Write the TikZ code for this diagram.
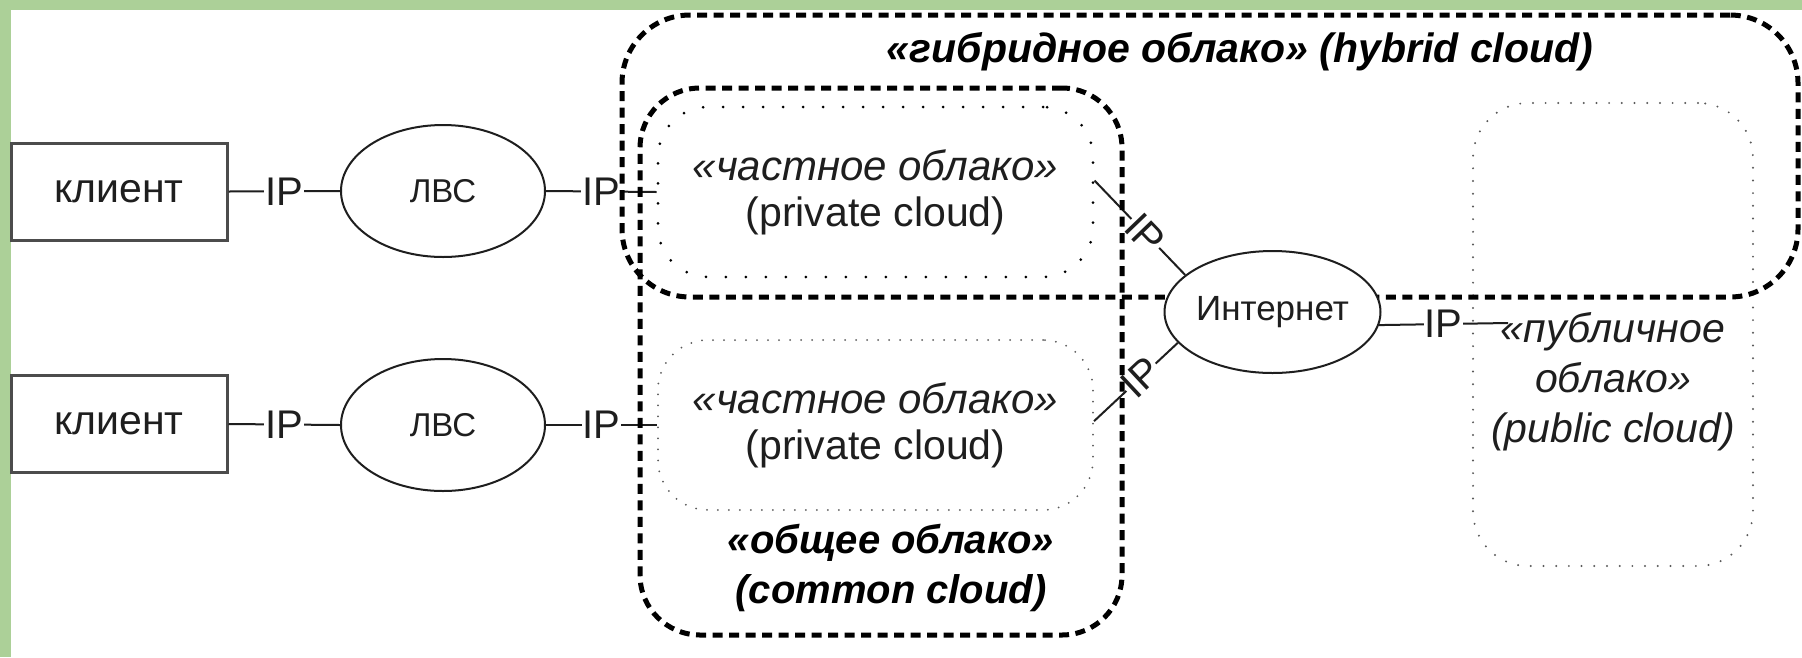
\documentclass[tikz,border=0pt]{standalone}
\usepackage{fontspec}
\setmainfont{Liberation Sans}
\usetikzlibrary{shapes.geometric,calc}
\definecolor{bggreen}{RGB}{172,208,152}
\definecolor{ink}{RGB}{30,30,30}
\definecolor{dotgray}{RGB}{90,90,90}
\pgfdeclarelayer{clouds}
\pgfdeclarelayer{toplayer}
\pgfsetlayers{main,clouds,toplayer}
\tikzset{
  conn/.style={line width=2pt, draw=ink},
  iplab/.style={fill=white, inner sep=1pt, text=ink, font=\fontsize{40}{40}\selectfont},
  clientbox/.style={draw=black!70, line width=3pt, minimum width=216pt, minimum height=97pt, inner sep=0pt, text=ink, font=\fontsize{41}{41}\selectfont},
  lan/.style={ellipse, draw=ink, line width=2pt, fill=white, minimum width=204pt, minimum height=132pt, inner sep=0pt, text=ink, font=\fontsize{33}{33}\selectfont},
  inetst/.style={ellipse, draw=ink, line width=2pt, fill=white, minimum width=189pt, minimum height=122pt, inner sep=0pt, text=ink, font=\fontsize{35}{35}\selectfont},
  bigcloud/.style={draw=black, line width=5pt, dash pattern=on 10pt off 6.5pt, inner sep=0pt},
  privcloud/.style={rounded corners=50pt, minimum width=435pt, minimum height=170pt, inner sep=0pt, align=center, text=ink, font=\fontsize{41}{46}\selectfont},
  privdotsA/.style={draw=black, line width=3pt, line cap=round, dash pattern=on 0pt off 20pt},
  privdotsB/.style={draw=dotgray, line width=2pt, line cap=round, dash pattern=on 0pt off 11pt},
  pubcloud/.style={draw=dotgray, line width=2.2pt, line cap=round, dash pattern=on 0pt off 12.7pt, rounded corners=55pt, minimum width=280pt, minimum height=463pt, inner sep=0pt},
  titlelab/.style={text=black, font=\bfseries\itshape\fontsize{41}{41}\selectfont},
  commonlab/.style={align=center, text=black, font=\bfseries\itshape\fontsize{40}{50}\selectfont},
  publab/.style={align=center, text=ink, font=\itshape\fontsize{41}{50}\selectfont}
}
\begin{document}
\begin{tikzpicture}[x=1pt,y=-1pt]
\useasboundingbox (0,0) rectangle (1802,657);
\fill[bggreen] (0,0) rectangle (1802,657);
\fill[white] (11,10) rectangle (1802,657);

% clients and LANs
\node[clientbox] (c1) at (119,191.5) {клиент};
\node[clientbox] (c2) at (119,424) {клиент};
\node[lan] (lan1) at (443,191) {ЛВС};
\node[lan] (lan2) at (443,425) {ЛВС};

% private clouds (dotted)
\node[privcloud, privdotsA] (p1) at (875.5,192) {{\itshape\fontsize{42}{46}\selectfont «частное облако»}\\(private cloud)};
\node[privcloud, privdotsB] (p2) at (875.5,425) {{\itshape\fontsize{42}{46}\selectfont «частное облако»}\\(private cloud)};

% public cloud
\node[pubcloud] (pub) at (1613,334.5) {};
\node[publab] (pubtxt) at (1613,382) {«публичное\\облако»\\(public cloud)};
\coordinate (pubend) at (1508,323);

% hybrid and common clouds
\begin{pgfonlayer}{clouds}
\node[bigcloud, rounded corners=68pt, minimum width=1176pt, minimum height=282pt] (hyb) at (1210,156) {};
\node[bigcloud, rounded corners=60pt, minimum width=482pt, minimum height=547pt] (com) at (881,361.5) {};
\end{pgfonlayer}
\node[titlelab] (hyblab) at (1240,52) {«гибридное облако» (hybrid cloud)};
\node[commonlab] (comlab) at (891,568) {«общее облако»\\(common cloud)};

% Internet
\begin{pgfonlayer}{toplayer}
\node[inetst] (inet) at (1272.5,312) {Интернет};
\end{pgfonlayer}

% connectors
\draw[conn] (c1.east) -- node[iplab] {IP} (lan1.west);
\draw[conn] (lan1.east) -- node[iplab] {IP} (p1.west);
\draw[conn] (c2.east) -- node[iplab] {IP} (lan2.west);
\draw[conn] (lan2.east) -- node[iplab] {IP} (p2.west);
\draw[conn] (p1.3) -- node[iplab, sloped, pos=0.56] {IP} (inet.157);
\draw[conn] (p2.1) -- node[iplab, sloped, pos=0.56] {IP} (inet.198);
\draw[conn] (inet.-7) -- node[iplab] {IP} (pubend);
\end{tikzpicture}
\end{document}
